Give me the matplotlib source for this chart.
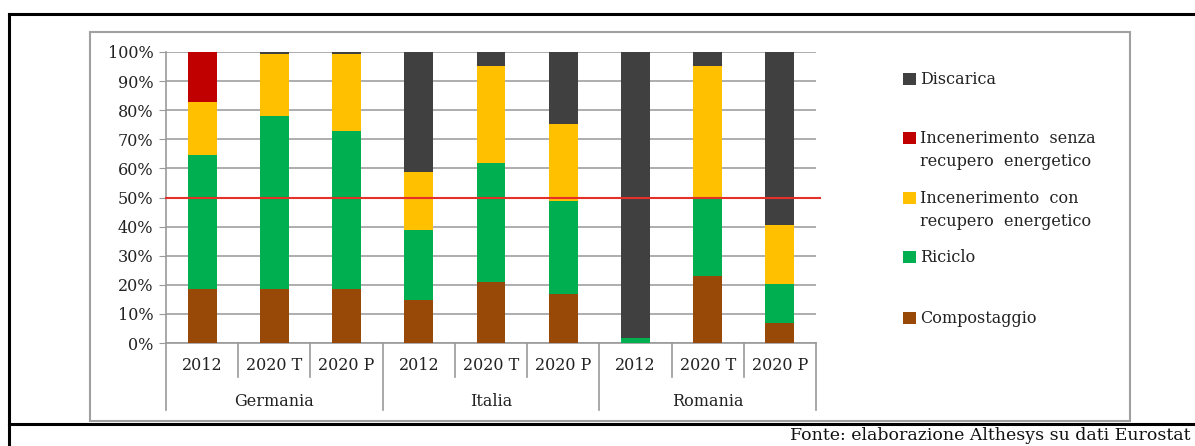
import matplotlib
matplotlib.use("Agg")
import matplotlib.pyplot as plt
from matplotlib.patches import Rectangle
from matplotlib.lines import Line2D
from matplotlib.transforms import blended_transform_factory

# DATA (percent shares)
groups = ['Germania', 'Italia', 'Romania']
years = ['2012', '2020 T', '2020 P']
compostaggio = [18.5, 18.5, 18.5, 14.8, 21.0, 16.8, 0.0, 23.0, 6.9]
riciclo = [46.1, 59.5, 54.3, 24.0, 40.9, 32.0, 1.7, 27.2, 13.4]
inc_con = [18.2, 21.3, 26.5, 20.0, 33.3, 26.5, 0.0, 45.0, 20.2]
inc_senza = [17.2, 0.0, 0.0, 0.0, 0.0, 0.0, 0.0, 0.0, 0.0]
discarica = [0.0, 0.7, 0.7, 41.2, 4.8, 24.7, 98.3, 4.8, 59.5]

series = [
    ('Compostaggio', compostaggio, '#984807'),
    ('Riciclo', riciclo, '#00b050'),
    ('Incenerimento  con\nrecupero  energetico', inc_con, '#ffc000'),
    ('Incenerimento  senza\nrecupero  energetico', inc_senza, '#c00000'),
    ('Discarica', discarica, '#404040'),
]

W, H = 1195, 446
plt.rcParams['font.family'] = ['DejaVu Serif']
fig = plt.figure(figsize=(W / 100, H / 100), dpi=100)
FS = 11.5


def fx(x):
    return x / W


def fy(y):
    return 1 - y / H


ax = fig.add_axes([fx(166), fy(343), fx(816) - fx(166), fy(52) - fy(343)])

n = len(compostaggio)
xs = list(range(n))
bottom = [0.0] * n
for name, vals, col in series:
    ax.bar(xs, vals, width=0.4, bottom=bottom, color=col, linewidth=0, zorder=3)
    bottom = [b + v for b, v in zip(bottom, vals)]

ax.set_xlim(-0.5, n - 0.5)
ax.set_ylim(0, 100)
ax.set_yticks(range(0, 101, 10))
ax.set_yticklabels([f'{t}%' for t in range(0, 101, 10)], fontsize=FS, color='#222222')
ax.tick_params(axis='y', length=5, color='#9a9a9a', pad=4)
ax.set_xticks([])
ax.grid(axis='y', color='#a0a0a0', lw=1.2, zorder=0)
for s in ['top', 'right']:
    ax.spines[s].set_visible(False)
for s in ['left', 'bottom']:
    ax.spines[s].set_color('#9a9a9a')
    ax.spines[s].set_linewidth(1.2)

# 50% reference line
ax.axhline(50, xmin=0, xmax=1.006, color='#e5302a', lw=1.5, zorder=4, clip_on=False)

# category axis: years and groups
tr = blended_transform_factory(ax.transData, fig.transFigure)
for i in xs:
    ax.text(i, fy(366), years[i % 3], transform=tr, ha='center', va='center',
            fontsize=FS, color='#222222')
for g, name in enumerate(groups):
    ax.text(g * 3 + 1, fy(402), name, transform=tr, ha='center', va='center',
            fontsize=FS, color='#222222')
for k in range(n + 1):
    xb = k - 0.5
    yend = fy(410) if k % 3 == 0 else fy(377)
    fig.add_artist(Line2D([xb, xb], [fy(343), yend], transform=tr,
                          color='#9a9a9a', lw=1.2))

# legend drawn by hand
leg = [
    ('Discarica', '#404040', 79),
    ('Incenerimento  senza\nrecupero  energetico', '#c00000', 138),
    ('Incenerimento  con\nrecupero  energetico', '#ffc000', 198),
    ('Riciclo', '#00b050', 257),
    ('Compostaggio', '#984807', 318),
]
sq = 12.5
for label, col, yc in leg:
    fig.add_artist(Rectangle((fx(903), fy(yc + sq / 2)), sq / W, sq / H,
                             transform=fig.transFigure, color=col, lw=0))
    fig.text(fx(920), fy(yc - 8), label, ha='left', va='top', fontsize=FS,
             color='#222222', linespacing=1.5)

# inner gray frame
fig.add_artist(Rectangle((fx(90), fy(421)), fx(1130) - fx(90), fy(32) - fy(421),
                         transform=fig.transFigure, fill=False,
                         edgecolor='#a0a0a0', lw=1.5))

# outer black frame lines
fig.add_artist(Line2D([fx(9), 1], [fy(14), fy(14)], color='black', lw=2.2))
fig.add_artist(Line2D([fx(9), fx(9)], [fy(14), 0], color='black', lw=2.2))
fig.add_artist(Line2D([fx(9), 1], [fy(424), fy(424)], color='black', lw=2.2))

fig.text(fx(1190), fy(436), 'Fonte: elaborazione Althesys su dati Eurostat',
         ha='right', va='center', fontsize=12.5, color='#111111')

fig.savefig('out.png', dpi=100)
